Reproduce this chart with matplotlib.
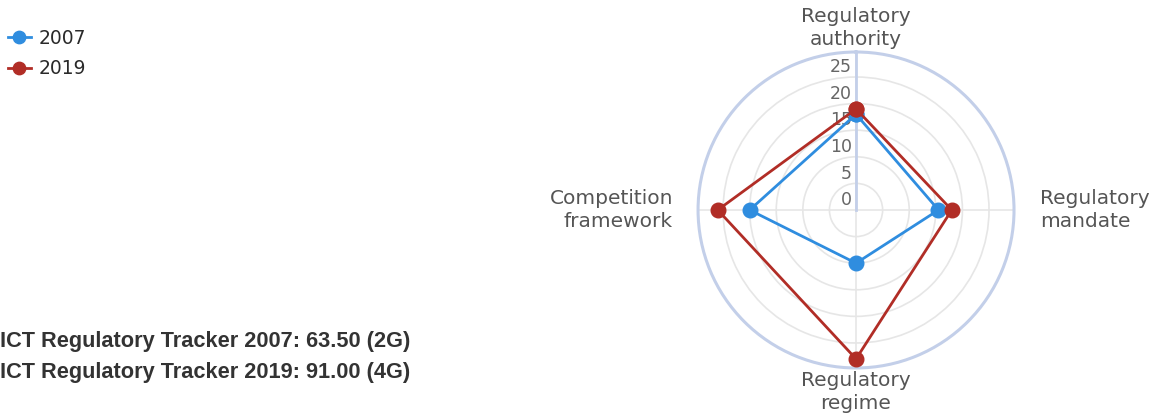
import numpy as np
import matplotlib.pyplot as plt

categories = ['Regulatory\nauthority', 'Regulatory\nmandate', 'Regulatory\nregime', 'Competition\nframework']
years = ['2007', '2019']
values_2007 = [18, 15.5, 10, 20]
values_2019 = [19, 18, 28, 26]
radial_ticks = [0, 5, 10, 15, 20, 25]
summary = ['ICT Regulatory Tracker 2007: 63.50 (2G)', 'ICT Regulatory Tracker 2019: 91.00 (4G)']

blue = '#2f8ddf'
red = '#b12d26'
axis_blue = '#c3cfe9'
grid = '#e6e6e6'

fig = plt.figure(figsize=(11.54, 4.15), dpi=100)
ax = fig.add_axes([0.6049, 0.1133, 0.2738, 0.7614], projection='polar')
ax.set_theta_zero_location('N')
ax.set_theta_direction(-1)

angles = np.deg2rad([0, 90, 180, 270])
closed = np.append(angles, angles[0])

ax.set_ylim(0, 29.7)
ax.set_yticks([5, 10, 15, 20, 25])
ax.set_yticklabels([])
ax.set_xticks(angles)
ax.set_xticklabels([])
ax.grid(True, color=grid, linewidth=1.2)
ax.spines['polar'].set_color(axis_blue)
ax.spines['polar'].set_linewidth(2.2)

# radial axis line along the top spoke
ax.plot([0, 0], [0, 29.7], color=axis_blue, linewidth=2, zorder=2.5)

for r in radial_ticks:
    ax.annotate(str(r), xy=(0, r), xytext=(-3, 7), textcoords='offset points',
                ha='right', va='center', fontsize=12.5, color='#666666',
                family='DejaVu Sans', zorder=2.6)

lines = []
for vals, col, lab in [(values_2007, blue, years[0]), (values_2019, red, years[1])]:
    v = np.append(vals, vals[0])
    ln, = ax.plot(closed, v, color=col, linewidth=2, marker='o', markersize=10.5,
                  label=lab, zorder=3, clip_on=False)
    lines.append(ln)

# category labels
lab_kw = dict(fontsize=14.5, color='#555555', family='DejaVu Sans', linespacing=1.3)
fig.text(856 / 1154, 1 - 28 / 415, categories[0], ha='center', va='center', **lab_kw)
fig.text(1040 / 1154, 1 - 210 / 415, categories[1], ha='left', va='center', **lab_kw)
fig.text(856 / 1154, 1 - 392 / 415, categories[2], ha='center', va='center', **lab_kw)
fig.text(673 / 1154, 1 - 210 / 415, categories[3], ha='right', va='center', **lab_kw)

leg = fig.legend(handles=lines, loc='upper left', bbox_to_anchor=(-0.002, 0.955), frameon=False,
                 prop={'family': 'DejaVu Sans', 'size': 13.5, 'weight': 'medium'},
                 handlelength=1.2, handletextpad=0.45, labelspacing=0.6,
                 borderaxespad=0.15, markerscale=0.85)
for t in leg.get_texts():
    t.set_color('#2a2a2a')

for i, s in enumerate(summary):
    fig.text(0.0, 1 - (341 + 31 * i) / 415, s, ha='left', va='center',
             fontsize=15.7, fontweight='bold', color='#333333', family='Liberation Sans')

fig.savefig('out.png', dpi=100)
